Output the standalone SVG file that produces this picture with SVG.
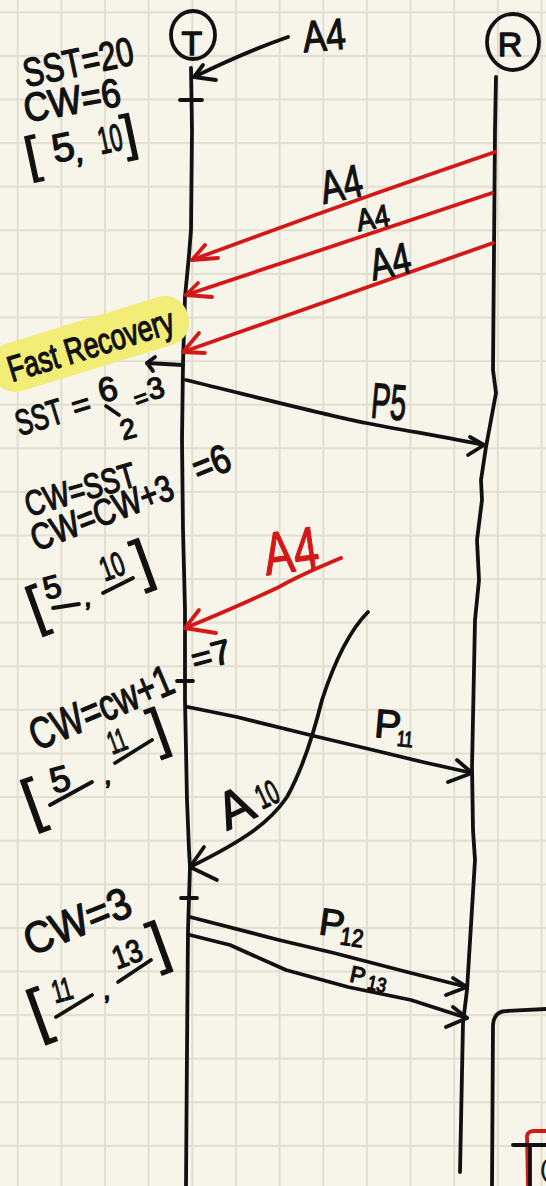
<svg xmlns="http://www.w3.org/2000/svg" width="546" height="1186" viewBox="0 0 546 1186">
<defs>
<pattern id="grid" x="17.7" y="12.3" width="43.65" height="43.6" patternUnits="userSpaceOnUse">
<rect x="0" y="0" width="43.65" height="43.6" fill="#f7f5ea"/>
<rect x="-1" y="0" width="2" height="43.6" fill="#e2dfd1"/>
<rect x="0" y="-1" width="43.65" height="2" fill="#e2dfd1"/>
<rect x="42.65" y="0" width="2" height="43.6" fill="#e2dfd1"/>
<rect x="0" y="42.6" width="43.65" height="2" fill="#e2dfd1"/>
</pattern>
<style>
.ink{fill:none;stroke:#111;stroke-width:3.8;stroke-linecap:round;stroke-linejoin:round}
.red{fill:none;stroke:#d41818;stroke-width:3.8;stroke-linecap:round;stroke-linejoin:round}
.t{font-family:"Liberation Sans",Arial,sans-serif;fill:#111;stroke:#111;stroke-width:1.3;stroke-linejoin:round;text-anchor:middle;dominant-baseline:central}
.rt{fill:#d41818;stroke:#d41818}
</style>
</defs>
<rect x="0" y="0" width="546" height="1186" fill="url(#grid)"/>

<g id="node-T">
<ellipse class="ink" cx="193" cy="35" rx="22" ry="24"/>
<text class="t" font-size="34" transform="translate(192,43)">T</text>
<path class="ink" d="M191,68 L192,130 L191,230 L189,255 L185,297 L183,363 L182,440 L183,530 L185,610 L185,700 L187,800 L189,850 L190,867 L188,930 L187,1050 L186,1186"/>
<path class="ink" d="M180,100 L202,100"/>
<path class="ink" stroke-width="5" d="M177,681 L193,681"/>
<path class="ink" stroke-width="4" d="M181,898 L197,898"/>
</g>

<g id="node-R">
<ellipse class="ink" cx="513" cy="42" rx="26" ry="28"/>
<text class="t" font-size="34" transform="translate(510,44)">R</text>
<path class="ink" d="M496,77 L495,130 L493,370 L496,393 L486,447 L481,480 L482,500 L477,540 L479,580 L475,620 L472,767 L473,830 L475,860 L467,990 L463,1023 L460,1172"/>
</g>

<g id="highlight">
<rect x="-12" y="319" width="204" height="50" rx="23" fill="#f2ed76" transform="rotate(-17 90 344)"/>
</g>

<g id="connectors">
<path class="ink" d="M288,37 Q245,52 194,77"/>
<path class="ink" d="M203,65 L194,77 L216,80"/>
<path class="red" d="M495,152 Q340,205 192,260"/>
<path class="red" d="M205,245 L192,260 L218,258"/>
<path class="red" d="M492,193 Q340,243 186,295"/>
<path class="red" d="M198,283 L186,295 L212,297"/>
<path class="red" d="M493,243 Q340,297 183,352"/>
<path class="red" d="M199,333 L183,352 L205,353"/>
<path class="ink" d="M183,365 L147,363"/>
<path class="ink" d="M155,357 L147,363 L153,371"/>
<path class="ink" d="M186,380 C260,398 330,416 366,423 S450,438 484,445"/>
<path class="ink" d="M470,437 L484,445 L468,455"/>
<path class="red" d="M341,558 Q300,575 279,587 Q230,610 185,628"/>
<path class="red" d="M199,610 L185,628 L216,633"/>
<path class="ink" d="M188,707 L237,717 L310,735 L373,750 L427,763 L472,773"/>
<path class="ink" d="M457,760 L472,773 L448,782"/>
<path class="ink" d="M368,612 C350,630 335,660 322,700 C312,740 302,770 287,797 C270,822 245,840 190,867"/>
<path class="ink" d="M204,847 L190,867 L217,880"/>
<path class="ink" d="M190,917 L279,940 L334,953 L411,973 L467,987"/>
<path class="ink" d="M453,978 L467,987 L446,995"/>
<path class="ink" d="M190,935 L230,945 L286,970 L348,987 L411,1000 L467,1018"/>
<path class="ink" d="M453,1007 L467,1018 L446,1027"/>
</g>

<g id="labels-arrows">
<text class="t" font-size="44" textLength="43" lengthAdjust="spacingAndGlyphs" transform="translate(324,35) rotate(-5)">A4</text>
<text class="t" font-size="46" textLength="42" lengthAdjust="spacingAndGlyphs" transform="translate(341,184) rotate(-12)">A4</text>
<text class="t" font-size="31" textLength="33" lengthAdjust="spacingAndGlyphs" transform="translate(373,218) rotate(-10)">A4</text>
<text class="t" font-size="44" textLength="41" lengthAdjust="spacingAndGlyphs" transform="translate(390,261) rotate(-12)">A4</text>
<text class="t" font-size="50" textLength="35" lengthAdjust="spacingAndGlyphs" transform="translate(389,402) rotate(5)">P5</text>
<text class="t rt" font-size="60" textLength="55" lengthAdjust="spacingAndGlyphs" transform="translate(291,551) rotate(-8)">A4</text>
<text class="t" font-size="52" transform="translate(235,807) rotate(-25)">A</text>
<text class="t" font-size="34" textLength="22" lengthAdjust="spacingAndGlyphs" transform="translate(267,794) rotate(-25)">10</text>
<text class="t" font-size="40" transform="translate(388,724) rotate(5)">P</text>
<text class="t" font-size="22" textLength="16" lengthAdjust="spacingAndGlyphs" transform="translate(405,739) rotate(5)">11</text>
<text class="t" font-size="38" transform="translate(332,923) rotate(8)">P</text>
<text class="t" font-size="25" textLength="23" lengthAdjust="spacingAndGlyphs" transform="translate(352,937) rotate(8)">12</text>
<text class="t" font-size="23" transform="translate(358,975) rotate(12)">P</text>
<text class="t" font-size="20" textLength="19" lengthAdjust="spacingAndGlyphs" transform="translate(377,984) rotate(12)">13</text>
</g>

<g id="note-initial">
<text class="t" font-size="40" textLength="112" lengthAdjust="spacingAndGlyphs" transform="translate(78,62) rotate(-12)">SST=20</text>
<text class="t" font-size="40" textLength="98" lengthAdjust="spacingAndGlyphs" transform="translate(72,100) rotate(-10)">CW=6</text>
<text class="t" font-size="50" transform="translate(32,155) rotate(-12)">[</text>
<text class="t" font-size="40" transform="translate(63,147) rotate(-12)">5</text>
<text class="t" font-size="34" transform="translate(80,150)">,</text>
<text class="t" font-size="38" textLength="24" lengthAdjust="spacingAndGlyphs" transform="translate(110,139) rotate(-12)">10</text>
<text class="t" font-size="50" transform="translate(129,133) rotate(-12)">]</text>
</g>

<g id="note-fast-recovery">
<text class="t" font-size="36" textLength="172" lengthAdjust="spacingAndGlyphs" style="text-anchor:start;dominant-baseline:alphabetic" transform="translate(12,382) rotate(-17)">Fast Recovery</text>
<text class="t" font-size="36" textLength="48" lengthAdjust="spacingAndGlyphs" transform="translate(39,417) rotate(-17)">SST</text>
<text class="t" font-size="32" transform="translate(81,405) rotate(-17)">=</text>
<text class="t" font-size="34" transform="translate(107.5,389) rotate(-15)">6</text>
<path class="ink" d="M106,406 L119,415"/>
<text class="t" font-size="28" transform="translate(128,429) rotate(-15)">2</text>
<text class="t" font-size="24" transform="translate(141,398) rotate(-20)">=</text>
<text class="t" font-size="30" transform="translate(155.5,388) rotate(-15)">3</text>
</g>

<g id="note-window-1">
<text class="t" font-size="35" textLength="114" lengthAdjust="spacingAndGlyphs" transform="translate(80,489) rotate(-16)">CW=SST</text>
<text class="t" font-size="37" textLength="150" lengthAdjust="spacingAndGlyphs" transform="translate(102,513) rotate(-21)">CW=CW+3</text>
<text class="t" font-size="40" textLength="38" lengthAdjust="spacingAndGlyphs" transform="translate(211,463) rotate(-22)">=6</text>
<text class="t" font-size="56" transform="translate(36,606) rotate(-20)">[</text>
<text class="t" font-size="32" transform="translate(52,587) rotate(-15)">5</text>
<path class="ink" d="M53,608 L79,604"/>
<text class="t" font-size="28" transform="translate(88,596)">,</text>
<text class="t" font-size="34" textLength="24" lengthAdjust="spacingAndGlyphs" transform="translate(112,566) rotate(-20)">10</text>
<path class="ink" d="M103,593 L133,578"/>
<text class="t" font-size="58" transform="translate(142,560) rotate(-20)">]</text>
</g>

<g id="note-window-2">
<text class="t" font-size="34" textLength="40" lengthAdjust="spacingAndGlyphs" transform="translate(211,655) rotate(-15)">=7</text>
<text class="t" font-size="44" textLength="152" lengthAdjust="spacingAndGlyphs" transform="translate(101,707) rotate(-23)">CW=cw+1</text>
<text class="t" font-size="60" transform="translate(32,801) rotate(-20)">[</text>
<text class="t" font-size="36" transform="translate(60,779) rotate(-15)">5</text>
<path class="ink" d="M50,805 L92,782"/>
<text class="t" font-size="28" transform="translate(108,774)">,</text>
<text class="t" font-size="32" textLength="18" lengthAdjust="spacingAndGlyphs" transform="translate(117,741) rotate(-20)">11</text>
<path class="ink" d="M115,763 L152,740"/>
<text class="t" font-size="56" transform="translate(158,728) rotate(-20)">]</text>
</g>

<g id="note-window-3">
<text class="t" font-size="44" textLength="112" lengthAdjust="spacingAndGlyphs" transform="translate(77,921) rotate(-22)">CW=3</text>
<text class="t" font-size="62" transform="translate(38,1011) rotate(-20)">[</text>
<text class="t" font-size="32" textLength="20" lengthAdjust="spacingAndGlyphs" transform="translate(62,990) rotate(-15)">11</text>
<path class="ink" d="M56,1017 L92,995"/>
<text class="t" font-size="28" transform="translate(107,989)">,</text>
<text class="t" font-size="32" textLength="30" lengthAdjust="spacingAndGlyphs" transform="translate(127,954) rotate(-20)">13</text>
<path class="ink" d="M118,982 L151,960"/>
<text class="t" font-size="58" transform="translate(158,942) rotate(-20)">]</text>
</g>

<g id="partial-box">
<path class="ink" stroke-width="5" d="M492,1186 L493,1025 Q494,1011 507,1011 L546,1009"/>
<path class="red" stroke-width="2.5" d="M528,1186 L527,1136 Q528,1131 534,1131 L546,1131"/>
<path class="ink" stroke-width="2.5" d="M513,1145 L546,1145 M530,1145 L530,1186"/>
<text class="t" font-size="22" style="stroke-width:0.6" transform="translate(544,1168)">(</text>
</g>
</svg>
